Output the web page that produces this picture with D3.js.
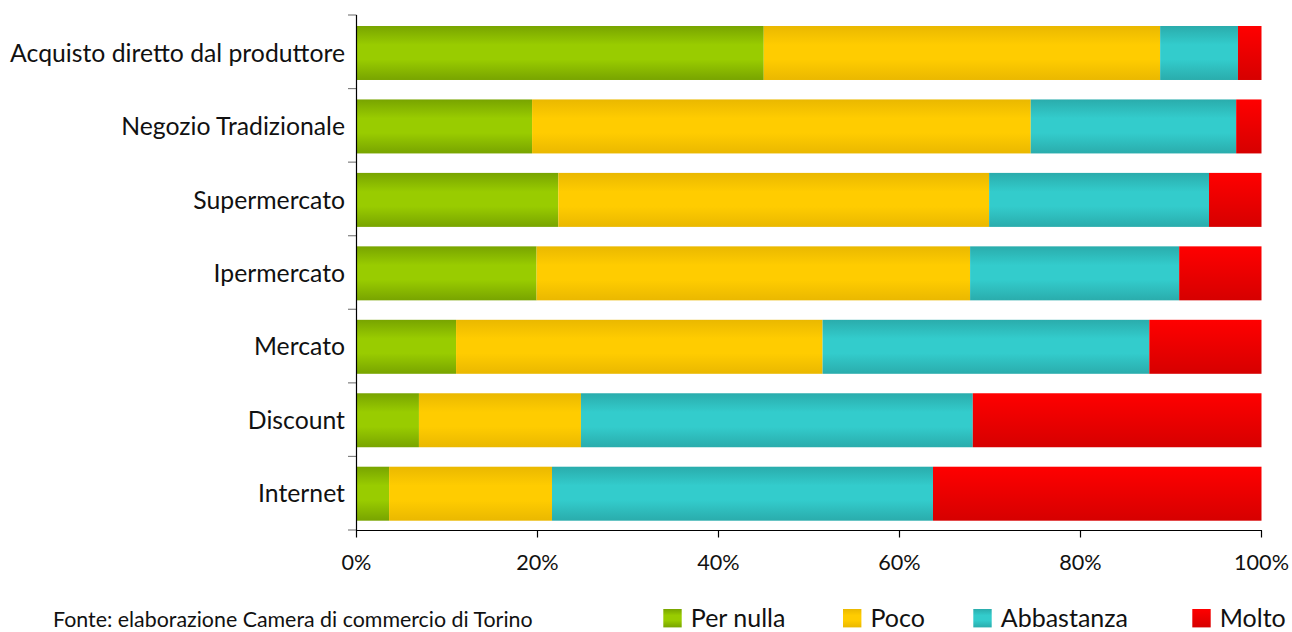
<!DOCTYPE html>
<html><head><meta charset="utf-8">
<script src="https://cdn.jsdelivr.net/npm/d3@7"></script>
<style>
html,body{margin:0;padding:0;background:#fff;overflow:hidden}
svg{display:block}
text{font-family:"Lato","Noto Sans",sans-serif;fill:#111}
</style></head>
<body>
<svg id="chart" width="1292" height="632"></svg>
<script>
const categories = ["Acquisto diretto dal produttore","Negozio Tradizionale","Supermercato","Ipermercato","Mercato","Discount","Internet"];
const seriesNames = ["Per nulla","Poco","Abbastanza","Molto"];
const perNulla   = [45.0, 19.4, 22.3, 19.9, 11.0, 6.9, 3.6];
const poco       = [43.8, 55.1, 47.6, 47.9, 40.5, 17.9, 18.0];
const abbastanza = [8.6, 22.7, 24.3, 23.1, 36.1, 43.3, 42.1];
const molto      = [2.6, 2.8, 5.8, 9.1, 12.4, 31.9, 36.3];
const xTicks = [0, 20, 40, 60, 80, 100];
const source = "Fonte: elaborazione Camera di commercio di Torino";

const seriesValues = [perNulla, poco, abbastanza, molto];
const gradColors = [
  {edge:"#78a400", mid:"#99cc00", type:"sym"},
  {edge:"#eab800", mid:"#ffcc00", type:"sym"},
  {edge:"#2aacac", mid:"#33cccc", type:"sym"},
  {top:"#ff0000", bottom:"#d60000", type:"lin"}
];

const svg = d3.select("#chart");
const defs = svg.append("defs");
gradColors.forEach((g,i)=>{
  const lg = defs.append("linearGradient").attr("id","g"+i)
    .attr("x1",0).attr("y1",0).attr("x2",0).attr("y2",1);
  if (g.type==="sym") {
    lg.append("stop").attr("offset","0%").attr("stop-color",g.edge);
    lg.append("stop").attr("offset","35%").attr("stop-color",g.mid);
    lg.append("stop").attr("offset","62%").attr("stop-color",g.mid);
    lg.append("stop").attr("offset","100%").attr("stop-color",g.edge);
  } else {
    lg.append("stop").attr("offset","0%").attr("stop-color",g.top);
    lg.append("stop").attr("offset","100%").attr("stop-color",g.bottom);
  }
});

// helper: size a font so a sample string has a target width
function fitSize(sample, targetWidth, base){
  const t = svg.append("text").attr("font-size",base).text(sample);
  const w = t.node().getComputedTextLength();
  t.remove();
  return base * targetWidth / w;
}
const labelSize  = fitSize(categories[0], 335, 20);
const tickSize   = fitSize("100%", 55, 20);
const legendSize = Math.min(fitSize("Abbastanza", 143, 26), fitSize("Molto", 66, 26));
const sourceSize = fitSize(source, 480, 18);

const x = d3.scaleLinear().domain([0,100]).range([356.5,1261.5]);
const y = d3.scaleBand().domain(categories).range([26,520.7]).paddingInner(0.265).paddingOuter(0);

const rows = categories.map((c,i)=>{
  let acc = 0;
  return seriesValues.map((s,k)=>{ const d={cat:c,k:k,x0:acc,x1:acc+s[i]}; acc+=s[i]; return d; });
});

const g = svg.append("g");
rows.forEach(r=>{
  g.selectAll(null).data(r).enter().append("rect")
    .attr("x",d=>x(d.x0))
    .attr("width",d=>Math.max(0,x(Math.min(100,d.x1))-x(d.x0)))
    .attr("y",d=>y(d.cat))
    .attr("height",y.bandwidth())
    .attr("fill",d=>"url(#g"+d.k+")");
});

// y axis
const boundaries = d3.range(categories.length+1).map(i=>15 + i*(515/categories.length));
svg.append("g").selectAll("line").data(boundaries).enter().append("line")
  .attr("x1",348).attr("x2",356.5).attr("y1",d=>d).attr("y2",d=>d)
  .attr("stroke","#808080").attr("stroke-width",1.2);
svg.append("line").attr("x1",356.5).attr("x2",356.5).attr("y1",15).attr("y2",530.5)
  .attr("stroke","#000").attr("stroke-width",1.2);
svg.append("g").selectAll("text").data(categories).enter().append("text")
  .attr("x",345).attr("y",d=>y(d)+y.bandwidth()/2).attr("dy","0.35em")
  .attr("text-anchor","end").attr("font-size",labelSize).text(d=>d);

// x axis
const xa = svg.append("g").attr("transform","translate(0,530.5)");
xa.append("line").attr("x1",356).attr("x2",1262).attr("stroke","#000").attr("stroke-width",1.2);
xa.selectAll("line.t").data(xTicks).enter().append("line").attr("class","t")
  .attr("x1",d=>x(d)).attr("x2",d=>x(d)).attr("y1",0).attr("y2",7)
  .attr("stroke","#000").attr("stroke-width",1.2);
xa.selectAll("text").data(xTicks).enter().append("text")
  .attr("x",d=>x(d)).attr("y",39.5).attr("text-anchor","middle").attr("font-size",tickSize)
  .text(d=>d+"%");

// legend
const legX = [663.3, 843, 973.3, 1192.3];
const lg = svg.append("g");
seriesNames.forEach((n,i)=>{
  lg.append("rect").attr("x",legX[i]).attr("y",609).attr("width",18.4).attr("height",18.4)
    .attr("fill","url(#g"+i+")");
  lg.append("text").attr("x",legX[i]+27.5).attr("y",626.5).attr("font-size",legendSize).text(n);
});

// source
svg.append("text").attr("x",53).attr("y",627).attr("font-size",sourceSize).text(source);
</script>
</body></html>
